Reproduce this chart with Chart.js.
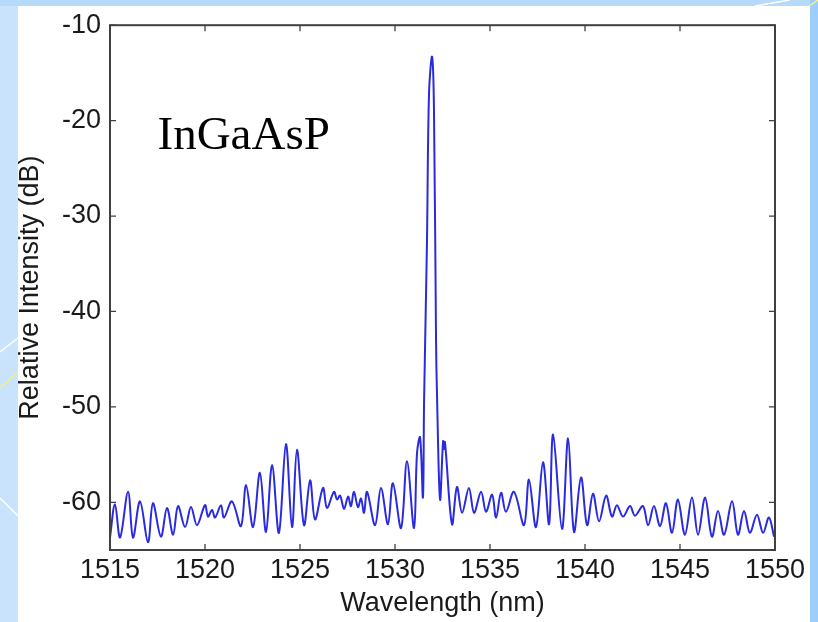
<!DOCTYPE html>
<html lang="en">
<head>
  <meta charset="UTF-8">
  <title>InGaAsP spectrum</title>
  <script src="https://cdn.jsdelivr.net/npm/chart.js"></script>
  <style>
    html, body {
      margin: 0;
      padding: 0;
      width: 818px;
      height: 622px;
      overflow: hidden;
      background: #c8e3fb;
    }
    .stripTop {
      position: absolute; left: 0; top: 0; width: 818px; height: 6px;
      background: #b7dafb;
    }
    .stripRight {
      position: absolute; left: 810px; top: 0; width: 8px; height: 622px;
      background: #9ccdfd;
    }
    .panel {
      position: absolute; left: 18px; top: 6px; width: 792px; height: 616px;
      background: #fff;
    }
    svg.deco { position: absolute; left: 0; top: 0; }
    #spectre { position: absolute; left: 0; top: 0; }
  </style>
</head>
<body>

<div class="stripTop"></div>
<div class="stripRight"></div>
<svg class="deco" width="818" height="622">
  <line x1="0" y1="352" x2="18" y2="338" stroke="#fff" stroke-width="1.5"/>
  <line x1="0" y1="388" x2="18" y2="372" stroke="#f4f080" stroke-width="1.5"/>
  <line x1="0" y1="498" x2="18" y2="516" stroke="#fff" stroke-width="1.5"/>
  <line x1="755" y1="6" x2="790" y2="0" stroke="#fff" stroke-width="1.5"/>
  <line x1="806" y1="8" x2="818" y2="0" stroke="#f4f080" stroke-width="1.5"/>
</svg>
<div class="panel"></div>
<canvas id="spectre" width="818" height="622"></canvas>

<script>
  // mesure : longueur d'onde (nm) / intensité relative (dB)
  const wavelength = [
    1515.00, 1515.26, 1515.53, 1515.95, 1516.21, 1516.58, 1517.00, 1517.26, 1517.68, 1518.00,
    1518.32, 1518.58, 1518.95, 1519.26, 1519.58, 1520.00, 1520.16, 1520.37, 1520.53, 1520.84,
    1521.00, 1521.42, 1521.89, 1522.16, 1522.53, 1522.89, 1523.21, 1523.53, 1523.89, 1524.26,
    1524.58, 1524.84, 1525.21, 1525.53, 1525.79, 1526.21, 1526.42, 1526.79, 1526.95, 1527.11,
    1527.32, 1527.53, 1527.68, 1527.84, 1528.05, 1528.21, 1528.37, 1528.53, 1528.95, 1529.26,
    1529.63, 1529.89, 1530.32, 1530.63, 1531.00, 1531.16, 1531.32, 1531.47, 1531.53, 1531.68,
    1531.79, 1531.95, 1532.05, 1532.16, 1532.21, 1532.37, 1532.53, 1532.58, 1532.63, 1533.00,
    1533.26, 1533.53, 1533.89, 1534.16, 1534.53, 1534.79, 1535.11, 1535.32, 1535.58, 1535.84,
    1536.26, 1536.79, 1537.05, 1537.42, 1537.79, 1538.11, 1538.32, 1538.79, 1539.11, 1539.42,
    1539.79, 1540.11, 1540.42, 1540.74, 1541.11, 1541.42, 1541.68, 1542.00, 1542.37, 1542.63,
    1543.05, 1543.32, 1543.63, 1543.95, 1544.26, 1544.58, 1544.89, 1545.26, 1545.63, 1545.95,
    1546.32, 1546.68, 1547.00, 1547.32, 1547.74, 1548.05, 1548.37, 1548.68, 1549.05, 1549.37,
    1549.68, 1549.95
  ];
  const intensity = [
    -63.7, -60.2, -63.7, -58.9, -63.7, -59.9, -64.2, -60.1, -63.6, -60.6,
    -63.4, -60.4, -62.6, -60.5, -62.4, -60.3, -61.5, -60.8, -61.6, -60.3,
    -61.6, -59.9, -62.5, -58.2, -62.6, -56.9, -63.1, -56.1, -63.2, -53.9,
    -62.6, -54.5, -62.4, -57.7, -61.8, -58.5, -60.6, -58.9, -59.7, -59.3,
    -60.7, -59.4, -60.4, -58.9, -60.5, -59.6, -61.1, -58.9, -62.4, -58.5,
    -62.3, -58.0, -62.7, -55.7, -62.7, -54.8, -53.2, -59.5, -49.4, -33.1,
    -17.2, -13.3, -18.7, -43.1, -48.7, -59.7, -53.6, -54.4, -53.7, -62.3,
    -58.4, -61.1, -58.5, -61.1, -58.9, -61.0, -59.2, -61.6, -59.0, -61.0,
    -58.9, -62.4, -57.6, -62.6, -55.8, -62.3, -52.9, -62.8, -53.3, -63.1,
    -57.4, -62.4, -59.1, -62.0, -59.3, -61.5, -60.3, -61.5, -60.4, -61.4,
    -60.4, -62.4, -60.4, -62.5, -60.1, -63.2, -59.7, -63.4, -59.5, -63.4,
    -59.5, -63.6, -60.9, -63.4, -59.9, -63.4, -60.9, -63.2, -61.3, -63.2,
    -61.6, -63.6
  ];

  const xTicks = [1515, 1520, 1525, 1530, 1535, 1540, 1545, 1550];
  const yTicks = [-10, -20, -30, -40, -50, -60];
  const materiau = 'InGaAsP';

  const police = { family: "'Liberation Sans', Arial, sans-serif", size: 27 };

  // cadre façon Matlab : boîte fermée + graduations vers l'intérieur + étiquette
  const cadre = {
    id: 'cadre',
    afterDraw(chart) {
      const { ctx, chartArea: a, scales } = chart;
      ctx.save();
      ctx.strokeStyle = '#404040';
      ctx.lineWidth = 2;
      ctx.strokeRect(a.left, a.top, a.right - a.left, a.bottom - a.top);
      ctx.lineWidth = 1.3;
      ctx.beginPath();
      xTicks.forEach(v => {
        const px = scales.x.getPixelForValue(v);
        ctx.moveTo(px, a.bottom); ctx.lineTo(px, a.bottom - 6);
        ctx.moveTo(px, a.top); ctx.lineTo(px, a.top + 6);
      });
      yTicks.forEach(v => {
        const py = scales.y.getPixelForValue(v);
        ctx.moveTo(a.left, py); ctx.lineTo(a.left + 6, py);
        ctx.moveTo(a.right, py); ctx.lineTo(a.right - 6, py);
      });
      ctx.stroke();

      ctx.fillStyle = '#000';
      ctx.font = "47px 'Liberation Serif', 'Times New Roman', serif";
      ctx.textBaseline = 'alphabetic';
      ctx.fillText(materiau, scales.x.getPixelForValue(1517.5), scales.y.getPixelForValue(-23));
      ctx.restore();
    }
  };

  new Chart(document.getElementById('spectre'), {
    type: 'scatter',
    data: {
      datasets: [{
        data: wavelength.map((w, i) => ({ x: w, y: intensity[i] })),
        showLine: true,
        borderColor: '#2a2ae0',
        borderWidth: 2,
        pointRadius: 0,
        tension: 0.35,
        fill: false
      }]
    },
    options: {
      responsive: false,
      animation: false,
      layout: { padding: { left: 14, top: 20, right: 43, bottom: 2 } },
      plugins: { legend: { display: false }, tooltip: { enabled: false } },
      scales: {
        x: {
          type: 'linear',
          min: 1515,
          max: 1550,
          afterBuildTicks: s => { s.ticks = xTicks.map(v => ({ value: v })); },
          afterFit: s => { s.height = 70; },
          grid: { display: false, drawTicks: false },
          border: { display: false },
          ticks: { color: '#1a1a1a', font: police, padding: 4, maxRotation: 0, autoSkip: false, callback: v => String(v) },
          title: { display: true, text: 'Wavelength (nm)', color: '#1a1a1a', font: police, padding: { top: 0, bottom: 0 } }
        },
        y: {
          min: -65,
          max: -10,
          afterBuildTicks: s => { s.ticks = yTicks.map(v => ({ value: v })); },
          afterFit: s => { s.width = 96; },
          grid: { display: false, drawTicks: false },
          border: { display: false },
          ticks: { color: '#1a1a1a', font: police, padding: 9, callback: v => String(v) },
          title: { display: true, text: 'Relative Intensity (dB)', color: '#1a1a1a', font: police, padding: { top: 0, bottom: 0 } }
        }
      }
    },
    plugins: [cadre]
  });
</script>

</body>
</html>
